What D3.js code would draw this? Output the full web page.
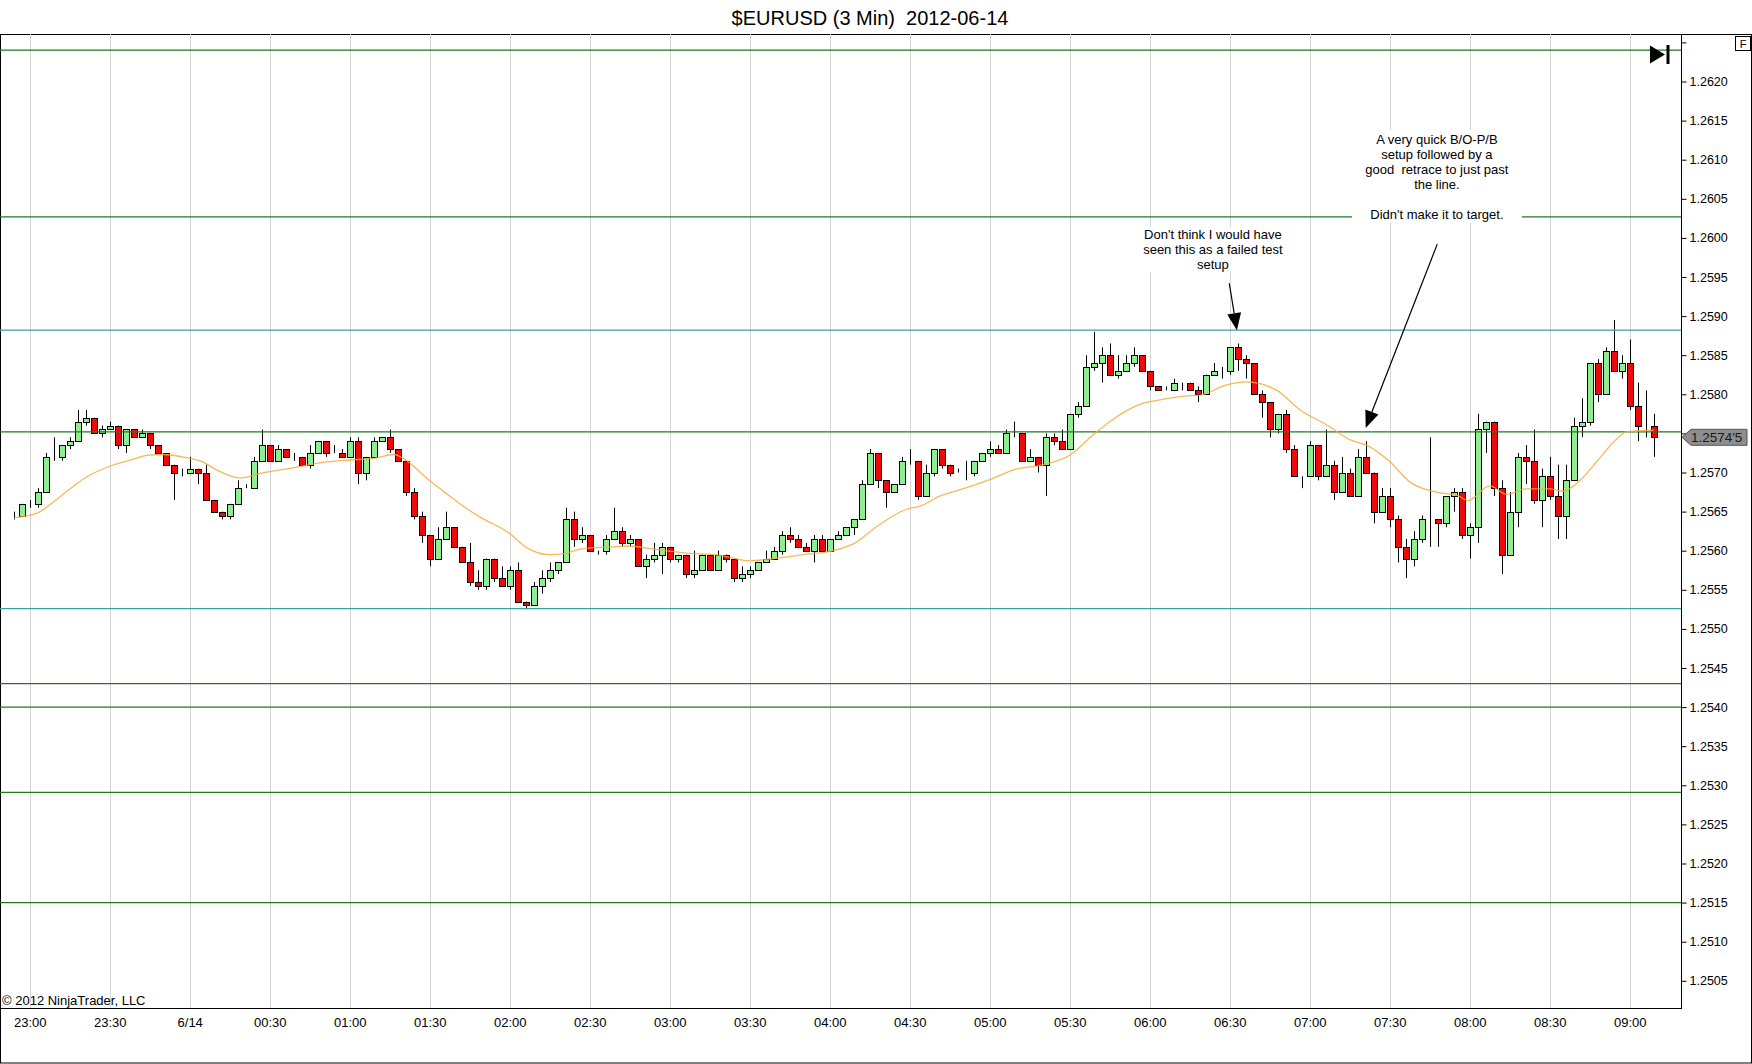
<!DOCTYPE html>
<html>
<head>
<meta charset="utf-8">
<script src="https://cdn.jsdelivr.net/npm/d3@7"></script>
<style>
  body { margin: 0; background: #fff; }
  svg { display: block; font-family: "Liberation Sans", Arial, sans-serif; }
  text { white-space: pre; }
</style>
</head>
<body>
<div id="chart"></div>
<script>
// 3 minute bars, first bar 2012-06-13 22:54
const open = [
  1.25645,1.25645,1.2566,1.2566,1.25675,1.2572,1.2572,1.25735,1.2574,1.25765,
  1.2577,1.2575,1.25755,1.2576,1.25735,1.25755,1.25745,1.2575,1.25735,1.25725,
  1.2571,1.257,1.257,1.25705,1.257,1.25665,1.2565,1.25645,1.2566,1.2568,
  1.2568,1.25715,1.25735,1.25715,1.2573,1.2572,1.2572,1.2571,1.25725,1.2574,
  1.25725,1.25725,1.2572,1.2574,1.257,1.2572,1.2574,1.25745,1.2573,1.25715,
  1.25675,1.25645,1.2562,1.2559,1.25615,1.2563,1.25605,1.25585,1.2556,1.25555,
  1.2559,1.25565,1.25555,1.25575,1.25535,1.2553,1.25555,1.25565,1.25575,1.25585,
  1.2564,1.25615,1.2562,1.256,1.256,1.25615,1.25625,1.2561,1.25615,1.2558,
  1.2559,1.25595,1.25605,1.2559,1.25595,1.2557,1.25575,1.25595,1.25575,1.25595,
  1.2559,1.25565,1.2557,1.25575,1.25585,1.2559,1.256,1.2562,1.25615,1.25605,
  1.256,1.25615,1.256,1.25615,1.2562,1.2563,1.2564,1.25685,1.25725,1.2569,
  1.25675,1.25685,1.25715,1.25715,1.2567,1.257,1.2573,1.2571,1.257,1.257,
  1.257,1.25715,1.25725,1.2573,1.25725,1.2575,1.2575,1.25715,1.2572,1.2571,
  1.25745,1.2574,1.2573,1.25775,1.25785,1.25835,1.2584,1.2585,1.25825,1.2583,
  1.2584,1.2585,1.2583,1.2581,1.25805,1.25805,1.25815,1.25815,1.25805,1.258,
  1.25825,1.2583,1.2583,1.2586,1.25845,1.2584,1.258,1.2579,1.25755,1.25775,
  1.2573,1.25695,1.25695,1.25735,1.25695,1.2571,1.25675,1.257,1.2567,1.2572,
  1.257,1.2565,1.2567,1.2564,1.25605,1.2559,1.25615,1.2564,1.2564,1.25635,
  1.2567,1.25675,1.2562,1.2563,1.25755,1.25765,1.2568,1.25595,1.2565,1.2572,
  1.25715,1.25665,1.25695,1.2567,1.25645,1.2569,1.2576,1.25765,1.2584,1.258,
  1.25855,1.2583,1.2584,1.25785,1.2576,1.2576
];
const high = [
  1.2565,1.2566,1.25665,1.2568,1.25725,1.25745,1.25735,1.25745,1.2578,1.2578,
  1.2577,1.2576,1.25765,1.2576,1.25755,1.25755,1.25755,1.2575,1.25735,1.25725,
  1.2571,1.25705,1.2572,1.25705,1.2571,1.25665,1.2565,1.2566,1.2569,1.25685,
  1.2572,1.25755,1.25735,1.25735,1.2573,1.25725,1.2572,1.25735,1.2574,1.2574,
  1.25735,1.2573,1.25745,1.25745,1.2572,1.25745,1.25745,1.25755,1.2573,1.25715,
  1.2568,1.2565,1.2562,1.2563,1.2565,1.2563,1.25605,1.2561,1.25575,1.2559,
  1.2559,1.2558,1.2558,1.25585,1.25535,1.2556,1.25575,1.25585,1.25585,1.25655,
  1.2565,1.2563,1.2562,1.256,1.2562,1.25655,1.2563,1.2562,1.25615,1.25595,
  1.2561,1.2561,1.25605,1.25595,1.25595,1.256,1.25595,1.25595,1.256,1.25595,
  1.2559,1.2558,1.2558,1.25585,1.256,1.25605,1.25625,1.2563,1.2562,1.2561,
  1.2562,1.2562,1.25615,1.25625,1.2563,1.2564,1.2569,1.2573,1.25725,1.2569,
  1.25685,1.2572,1.2573,1.25715,1.2571,1.2573,1.2573,1.2571,1.25705,1.25715,
  1.25715,1.25725,1.2574,1.25735,1.25755,1.25765,1.2575,1.2573,1.2572,1.2575,
  1.2575,1.25755,1.25775,1.2579,1.2585,1.2588,1.2586,1.25865,1.2585,1.2585,
  1.2586,1.2585,1.2583,1.2581,1.2581,1.2582,1.25815,1.25815,1.2581,1.25825,
  1.2584,1.25835,1.2586,1.25865,1.2585,1.2584,1.25805,1.2579,1.25775,1.2578,
  1.25735,1.25695,1.2574,1.25735,1.25755,1.25715,1.2572,1.25705,1.2573,1.2574,
  1.257,1.2568,1.2568,1.25645,1.25615,1.25625,1.25645,1.25745,1.2564,1.2567,
  1.2568,1.2568,1.25635,1.25775,1.25765,1.25765,1.2569,1.25675,1.25725,1.25735,
  1.25755,1.25705,1.2572,1.2571,1.2571,1.2577,1.25795,1.2584,1.25845,1.2586,
  1.25895,1.2585,1.2587,1.25815,1.25805,1.25775
];
const low = [
  1.2564,1.25645,1.25655,1.25655,1.25675,1.25715,1.25715,1.2573,1.2574,1.2576,
  1.2575,1.25745,1.25755,1.2573,1.25725,1.25745,1.25745,1.2573,1.25725,1.2571,
  1.25665,1.25695,1.257,1.25685,1.25665,1.2565,1.2564,1.2564,1.2566,1.2568,
  1.2568,1.25715,1.25715,1.25715,1.2572,1.25715,1.2571,1.25705,1.25725,1.2572,
  1.25725,1.2572,1.2572,1.25685,1.2569,1.2572,1.2574,1.25725,1.25715,1.2567,
  1.2564,1.2561,1.2558,1.2559,1.25615,1.25605,1.25585,1.25555,1.2555,1.2555,
  1.2556,1.25555,1.2555,1.25535,1.25525,1.2553,1.25545,1.2556,1.2557,1.25585,
  1.25605,1.2561,1.256,1.25595,1.25595,1.25615,1.25605,1.25605,1.2558,1.25565,
  1.25585,1.2557,1.25585,1.25585,1.25565,1.25565,1.25575,1.25575,1.25575,1.25585,
  1.2556,1.2556,1.25565,1.25575,1.25585,1.2559,1.25595,1.2561,1.25605,1.256,
  1.25585,1.256,1.256,1.25615,1.2562,1.2562,1.2564,1.25685,1.2568,1.25655,
  1.25675,1.25685,1.2571,1.25665,1.2567,1.25695,1.25705,1.25695,1.257,1.2569,
  1.25695,1.25715,1.2572,1.25725,1.25725,1.25745,1.25715,1.25715,1.257,1.2567,
  1.25735,1.2573,1.2573,1.2577,1.25785,1.2583,1.25815,1.25825,1.2582,1.2583,
  1.25835,1.2583,1.25805,1.25805,1.25805,1.25805,1.25805,1.25805,1.2579,1.258,
  1.25825,1.2582,1.25825,1.2583,1.2582,1.258,1.2577,1.25745,1.2575,1.25725,
  1.25695,1.2568,1.25695,1.2569,1.25695,1.25665,1.25675,1.2567,1.2567,1.257,
  1.25635,1.2565,1.2563,1.25585,1.25565,1.2558,1.2561,1.25605,1.25605,1.2563,
  1.2565,1.25615,1.2559,1.2561,1.25725,1.2567,1.2557,1.25595,1.2563,1.25685,
  1.2566,1.2563,1.25665,1.25615,1.25615,1.2569,1.25745,1.2576,1.2579,1.258,
  1.2583,1.2582,1.2578,1.2574,1.25745,1.2572
];
const close = [
  1.25645,1.2566,1.2566,1.25675,1.2572,1.2572,1.25735,1.2574,1.25765,1.2577,
  1.2575,1.25755,1.2576,1.25735,1.25755,1.25745,1.2575,1.25735,1.25725,1.2571,
  1.257,1.257,1.25705,1.257,1.25665,1.2565,1.25645,1.2566,1.2568,1.2568,
  1.25715,1.25735,1.25715,1.2573,1.2572,1.2572,1.2571,1.25725,1.2574,1.25725,
  1.25725,1.2572,1.2574,1.257,1.2572,1.2574,1.25745,1.2573,1.25715,1.25675,
  1.25645,1.2562,1.2559,1.25615,1.2563,1.25605,1.25585,1.2556,1.25555,1.2559,
  1.25565,1.25555,1.25575,1.25535,1.2553,1.25555,1.25565,1.25575,1.25585,1.2564,
  1.25615,1.2562,1.256,1.256,1.25615,1.25625,1.2561,1.25615,1.2558,1.2559,
  1.25595,1.25605,1.2559,1.25595,1.2557,1.25575,1.25595,1.25575,1.25595,1.2559,
  1.25565,1.2557,1.25575,1.25585,1.2559,1.256,1.2562,1.25615,1.25605,1.256,
  1.25615,1.256,1.25615,1.2562,1.2563,1.2564,1.25685,1.25725,1.2569,1.25675,
  1.25685,1.25715,1.25715,1.2567,1.257,1.2573,1.2571,1.257,1.257,1.257,
  1.25715,1.25725,1.2573,1.25725,1.2575,1.2575,1.25715,1.2572,1.2571,1.25745,
  1.2574,1.2573,1.25775,1.25785,1.25835,1.2584,1.2585,1.25825,1.2583,1.2584,
  1.2585,1.2583,1.2581,1.25805,1.25805,1.25815,1.25815,1.25805,1.258,1.25825,
  1.2583,1.2583,1.2586,1.25845,1.2584,1.258,1.2579,1.25755,1.25775,1.2573,
  1.25695,1.25695,1.25735,1.25695,1.2571,1.25675,1.257,1.2567,1.2572,1.257,
  1.2565,1.2567,1.2564,1.25605,1.2559,1.25615,1.2564,1.2564,1.25635,1.2567,
  1.25675,1.2562,1.2563,1.25755,1.25765,1.2568,1.25595,1.2565,1.2572,1.25715,
  1.25665,1.25695,1.2567,1.25645,1.2569,1.2576,1.25765,1.2584,1.258,1.25855,
  1.2583,1.2584,1.25785,1.2576,1.2576,1.25745
];

// moving average: bar index -> value
const maIndex = [0,2.9,5.8,8.9,12,15,16.6,18.7,22,23.3,25.8,28.3,30.8,34.9,38.7,42,45,47.5,48.7,51.6,
  54.1,56.6,58.3,62,64.1,67,69.1,70.8,75,77,80,84.1,88.3,92,95,98.7,102,105,107.9,111.6,
  113.3,115.8,118.3,122,125.2,128.7,132,134.9,137,141,143.3,146.6,148.3,151.6,154.1,157.9,160.8,164.1,167,169.1,
  172,174.5,178.3,180.4,181.8,184.5,186.6,189.1,192,193.7,195.8,197.9,200,201.6,205];
const maValue = [1.25642,1.25648,1.25669,1.25693,1.25708,1.25717,1.25722,1.25723,1.25718,1.25715,
  1.25701,1.25693,1.25699,1.25706,1.25713,1.25716,1.25718,1.25723,1.25718,1.25693,
  1.25673,1.25654,1.25643,1.25622,1.25604,1.25595,1.25597,1.25602,1.25605,1.25606,
  1.25602,1.25597,1.25594,1.25587,1.2559,1.25595,1.25599,1.25609,1.25631,1.25653,
  1.25657,1.2567,1.25678,1.25691,1.25704,1.2571,1.25722,1.25748,1.25765,1.25788,
  1.25793,1.25798,1.25799,1.25812,1.25816,1.25805,1.2578,1.25761,1.25742,1.25735,
  1.25714,1.25688,1.25674,1.25671,1.25664,1.25683,1.25672,1.25679,1.25679,1.25676,
  1.2569,1.25714,1.25739,1.25752,1.25754];

// drawn horizontal levels
const greenLevels = [1.2624, 1.26027, 1.25752, 1.2543, 1.254, 1.25291, 1.2515];
const cyanLevels = [1.25882, 1.25526];

const priceTicks = [1.2505,1.2510,1.2515,1.2520,1.2525,1.2530,1.2535,1.2540,1.2545,1.2550,1.2555,1.2560,
  1.2565,1.2570,1.2575,1.2580,1.2585,1.2590,1.2595,1.2600,1.2605,1.2610,1.2615,1.2620,1.2625];
const timeLabels = ["23:00","23:30","6/14","00:30","01:00","01:30","02:00","02:30","03:00","03:30","04:00",
  "04:30","05:00","05:30","06:00","06:30","07:00","07:30","08:00","08:30","09:00"];

const note1 = ["Don't think I would have", "seen this as a failed test", "setup"];
const note2 = ["A very quick B/O-P/B", "setup followed by a", "good  retrace to just past", "the line.", "", "Didn't make it to target."];

const W = 1752, H = 1064;
const plotTop = 34, plotBottom = 1008, axisX = 1681;

const svg = d3.select("#chart").append("svg")
  .attr("width", W)
  .attr("height", H);

svg.append("rect").attr("width", W).attr("height", H).attr("fill", "#fff");

const start = new Date(2012, 5, 13, 22, 54);
const times = open.map((d, i) => d3.timeMinute.offset(start, 3 * i));

const x = d3.scaleTime()
  .domain([d3.timeSecond.offset(start, -308), d3.timeSecond.offset(start, 37514)])
  .range([0, axisX]);

const y = d3.scaleLinear()
  .domain([1.2620, 1.2515])
  .range([81.5, 902.6]);

const xi = i => x(d3.timeSecond.offset(start, i * 180));
const last = close[close.length - 1];

// title
svg.append("text")
  .attr("x", 870).attr("y", 25)
  .attr("text-anchor", "middle")
  .style("font-size", "20px")
  .text("$EURUSD (3 Min)  2012-06-14");

// frame
svg.append("rect")
  .attr("x", 0.5).attr("y", plotTop + 0.5)
  .attr("width", W - 1).attr("height", H - plotTop - 1.5)
  .attr("fill", "none").attr("stroke", "#000");

// vertical grid every 30 minutes
const tickTimes = d3.timeMinute.every(30).range(new Date(2012, 5, 13, 23, 0), new Date(2012, 5, 14, 9, 1));
svg.append("g").selectAll("line")
  .data(tickTimes)
  .enter().append("line")
  .attr("x1", d => Math.round(x(d)) + 0.5)
  .attr("x2", d => Math.round(x(d)) + 0.5)
  .attr("y1", plotTop).attr("y2", plotBottom)
  .attr("stroke", "#d6d6d6");

// candles
const candles = svg.append("g");
candles.selectAll(".wick")
  .data(times)
  .enter().append("line")
  .attr("class", "wick")
  .attr("x1", d => Math.round(x(d)) + 0.5)
  .attr("x2", d => Math.round(x(d)) + 0.5)
  .attr("y1", (d, i) => y(high[i]))
  .attr("y2", (d, i) => y(low[i]))
  .attr("stroke", "#000");

candles.selectAll(".body")
  .data(times)
  .enter().append("rect")
  .attr("class", "body")
  .attr("x", d => Math.round(x(d)) - 2.5)
  .attr("y", (d, i) => Math.round(y(Math.max(open[i], close[i]))) + 0.5)
  .attr("width", 6)
  .attr("height", (d, i) => Math.max(0, Math.round(y(Math.min(open[i], close[i]))) - Math.round(y(Math.max(open[i], close[i])))))
  .attr("fill", (d, i) => close[i] > open[i] ? "#90ee90" : "#ee0a0a")
  .attr("stroke", "#000");

// levels
svg.append("g").selectAll("line")
  .data(greenLevels)
  .enter().append("line")
  .attr("x1", 0).attr("x2", axisX)
  .attr("y1", d => y(d)).attr("y2", d => y(d))
  .attr("stroke", "#1e7a1e").attr("stroke-width", 1.3);

svg.append("g").selectAll("line")
  .data(cyanLevels)
  .enter().append("line")
  .attr("x1", 0).attr("x2", axisX)
  .attr("y1", d => y(d)).attr("y2", d => y(d))
  .attr("stroke", "#3b9fa6").attr("stroke-width", 1.3);

// moving average
const maLine = d3.line()
  .x((d, i) => xi(maIndex[i]))
  .y(d => y(d))
  .curve(d3.curveMonotoneX);

svg.append("path")
  .datum(maValue)
  .attr("d", maLine)
  .attr("fill", "none")
  .attr("stroke", "#f4ac3c")
  .attr("stroke-opacity", 0.85)
  .attr("stroke-width", 1.3);

// notes
function note(lines, cx, yTop, box) {
  svg.append("rect")
    .attr("x", box[0]).attr("y", box[1])
    .attr("width", box[2]).attr("height", box[3])
    .attr("fill", "#fff");
  const t = svg.append("text")
    .attr("text-anchor", "middle")
    .style("font-size", "13px");
  lines.forEach((s, k) => {
    t.append("tspan").attr("x", cx).attr("y", yTop + 15 * k).text(s);
  });
}

function arrow(i0, p0, i1, p1) {
  const x0 = xi(i0), y0 = y(p0), x1 = xi(i1), y1 = y(p1);
  const a = Math.atan2(y1 - y0, x1 - x0);
  const len = 17, half = 7;
  const bx = x1 - len * Math.cos(a), by = y1 - len * Math.sin(a);
  svg.append("line")
    .attr("x1", x0).attr("y1", y0).attr("x2", bx).attr("y2", by)
    .attr("stroke", "#000").attr("stroke-width", 1.2);
  svg.append("path")
    .attr("d", `M${x1},${y1}L${bx + half * Math.sin(a)},${by - half * Math.cos(a)}L${bx - half * Math.sin(a)},${by + half * Math.cos(a)}Z`)
    .attr("fill", "#000");
}

note(note1, xi(149.9), 238.8, [1139, 226.7, 147, 45]);
note(note2, xi(177.9), 143.8, [1352, 130, 170, 93]);
arrow(151.95, 1.25942, 152.9, 1.25882);
arrow(177.95, 1.25992, 169.0, 1.25757);

// price axis on the right (label under the last price marker is hidden)
const yAxis = d3.axisRight(y)
  .tickValues(priceTicks)
  .tickSize(5)
  .tickPadding(3)
  .tickFormat(d => (d > 1.2622 || Math.abs(y(d) - y(last)) < 12) ? "" : d.toFixed(4));

const ya = svg.append("g")
  .attr("transform", `translate(${axisX + 0.5},0)`)
  .call(yAxis);
ya.select(".domain").remove();
ya.selectAll("text").style("font-size", "12.5px").attr("fill", "#000");
ya.selectAll("line").attr("stroke", "#000");

svg.append("line")
  .attr("x1", axisX + 0.5).attr("x2", axisX + 0.5)
  .attr("y1", plotTop).attr("y2", plotBottom)
  .attr("stroke", "#000");

// time axis
const xAxis = d3.axisBottom(x)
  .tickValues(tickTimes)
  .tickSize(0)
  .tickPadding(10)
  .tickFormat((d, i) => timeLabels[i]);

const xa = svg.append("g")
  .attr("transform", `translate(0,${plotBottom})`)
  .call(xAxis);
xa.select(".domain").remove();
xa.selectAll("text").style("font-size", "13px").attr("fill", "#000");

svg.append("line")
  .attr("x1", 0).attr("x2", axisX + 1)
  .attr("y1", plotBottom + 0.5).attr("y2", plotBottom + 0.5)
  .attr("stroke", "#000");

// last price marker
const ly = y(last);
svg.append("path")
  .attr("d", `M${axisX + 1},${ly}L${axisX + 10},${ly - 8}L1747,${ly - 8}L1747,${ly + 8}L${axisX + 10},${ly + 8}Z`)
  .attr("fill", "#8e8e8e").attr("stroke", "#555");
svg.append("text")
  .attr("x", 1691).attr("y", ly + 5)
  .style("font-size", "13.5px")
  .attr("fill", "#1a1a1a")
  .text("1.2574'5");

// copyright
svg.append("text")
  .attr("x", 2).attr("y", 1005)
  .style("font-size", "13px")
  .text("\u00a9 2012 NinjaTrader, LLC");

// toolbar glyphs
svg.append("path").attr("d", "M1650,45.5L1650,63.5L1665,54.5Z").attr("fill", "#000");
svg.append("rect").attr("x", 1666.5).attr("y", 45).attr("width", 3).attr("height", 19).attr("fill", "#000");
svg.append("rect").attr("x", 1735.5).attr("y", 36.5).attr("width", 15).attr("height", 14)
  .attr("fill", "#fff").attr("stroke", "#000");
svg.append("text").attr("x", 1743).attr("y", 48).attr("text-anchor", "middle")
  .style("font-size", "11px").text("F");
</script>
</body>
</html>
